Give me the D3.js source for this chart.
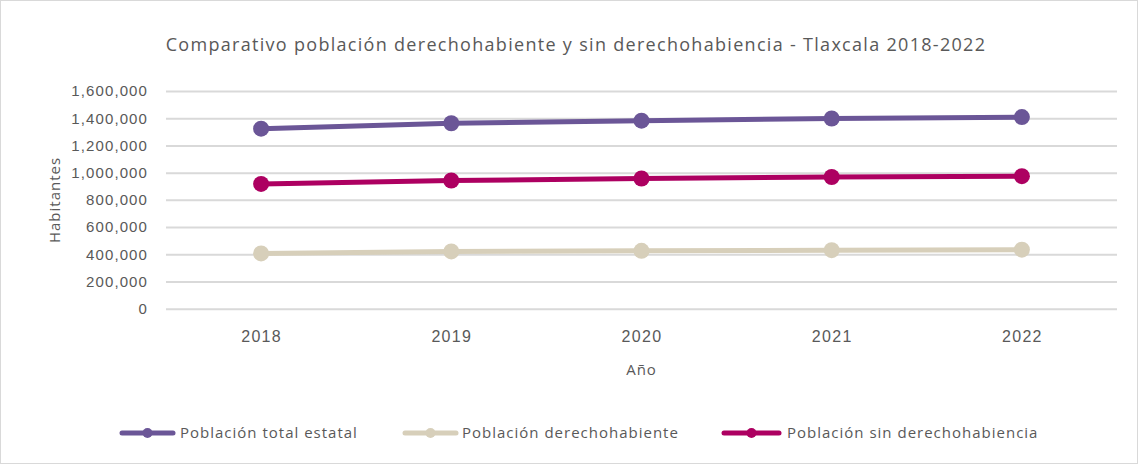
<!DOCTYPE html>
<html>
<head>
<meta charset="utf-8">
<script src="https://cdn.jsdelivr.net/npm/d3@7"></script>
<style>
  html, body { margin: 0; padding: 0; background: #fff; }
  svg { display: block; font-family: "Open Sans", sans-serif; }
  text { fill: #595959; }
</style>
</head>
<body>
<svg id="chart" width="1138" height="464"></svg>
<script>
// Años del periodo
const years = ["2018", "2019", "2020", "2021", "2022"];

// Habitantes por serie
const poblacionTotal = [1323000, 1363000, 1382000, 1398000, 1408000];
const poblacionDerechohabiente = [406000, 421000, 425000, 430000, 434000];
const poblacionSinDerecho = [917000, 942000, 957000, 968000, 974000];

const seriesNames = ["Población total estatal", "Población derechohabiente", "Población sin derechohabiencia"];
const seriesColors = ["#6b5697", "#d7cfba", "#ad0061"];

const yTicks = [0, 200000, 400000, 600000, 800000, 1000000, 1200000, 1400000, 1600000];

const series = [poblacionTotal, poblacionDerechohabiente, poblacionSinDerecho].map((values, i) => ({
  name: seriesNames[i],
  color: seriesColors[i],
  values: values.map((v, j) => ({ year: years[j], value: v }))
}));

const svg = d3.select("#chart");
const W = 1138, H = 464;
const margin = { top: 91, right: 21, bottom: 155, left: 166 };

// Marco exterior
svg.append("rect")
  .attr("x", 0.5).attr("y", 0.5)
  .attr("width", W - 1).attr("height", H - 1)
  .attr("fill", "#fff").attr("stroke", "#d9d9d9");

const x = d3.scalePoint()
  .domain(years)
  .range([margin.left, W - margin.right])
  .padding(0.5);

const y = d3.scaleLinear()
  .domain([0, 1600000])
  .range([H - margin.bottom - 0.3, margin.top]);

// Título
svg.append("text")
  .attr("x", 576).attr("y", 51)
  .attr("text-anchor", "middle")
  .style("font-size", "18px")
  .style("letter-spacing", "1.3px")
  .text("Comparativo población derechohabiente y sin derechohabiencia - Tlaxcala 2018-2022");

// Eje Y con líneas de cuadrícula
const yAxis = svg.append("g")
  .attr("transform", `translate(${margin.left},0)`)
  .call(d3.axisLeft(y)
    .tickValues(yTicks)
    .tickSize(-(W - margin.right - margin.left))
    .tickPadding(18)
    .tickFormat(d3.format(",")));
yAxis.select(".domain").remove();
yAxis.selectAll(".tick line").attr("stroke", "#d9d9d9").attr("stroke-width", 2);
yAxis.selectAll(".tick text")
  .style("font-size", "15px")
  .style("letter-spacing", "1.1px")
  .attr("fill", "#595959");

// Eje X
const xAxis = svg.append("g")
  .attr("transform", `translate(0,${H - margin.bottom})`)
  .call(d3.axisBottom(x).tickSize(0).tickPadding(22));
xAxis.select(".domain").remove();
xAxis.selectAll(".tick text")
  .style("font-size", "16px")
  .style("letter-spacing", "1.3px")
  .attr("fill", "#595959");

// Títulos de ejes
svg.append("text")
  .attr("x", (margin.left + W - margin.right) / 2).attr("y", 375)
  .attr("text-anchor", "middle")
  .style("font-size", "15px")
  .style("letter-spacing", "1px")
  .text("Año");

svg.append("text")
  .attr("transform", `translate(60,${(margin.top + H - margin.bottom) / 2}) rotate(-90)`)
  .attr("text-anchor", "middle")
  .style("font-size", "15px")
  .style("letter-spacing", "1px")
  .text("Habitantes");

// Líneas y marcadores
const line = d3.line()
  .x(d => x(d.year))
  .y(d => y(d.value));

const g = svg.append("g");
// Orden de dibujo: derechohabiente, sin derechohabiencia, total
[1, 2, 0].forEach(i => {
  const s = series[i];
  g.append("path")
    .datum(s.values)
    .attr("d", line)
    .attr("fill", "none")
    .attr("stroke", s.color)
    .attr("stroke-width", 5)
    .attr("stroke-linecap", "round");
  g.selectAll(null)
    .data(s.values)
    .join("circle")
    .attr("cx", d => x(d.year))
    .attr("cy", d => y(d.value))
    .attr("r", 8)
    .attr("fill", s.color);
});

// Leyenda
const legendItems = [
  { x0: 122, x1: 173, tx: 180 },
  { x0: 405, x1: 456, tx: 462 },
  { x0: 724, x1: 779, tx: 787 }
];
const legend = svg.append("g").attr("transform", "translate(0,433)");
series.forEach((s, i) => {
  const it = legendItems[i];
  legend.append("line")
    .attr("x1", it.x0).attr("x2", it.x1)
    .attr("y1", 0).attr("y2", 0)
    .attr("stroke", s.color).attr("stroke-width", 5)
    .attr("stroke-linecap", "round");
  legend.append("circle")
    .attr("cx", (it.x0 + it.x1) / 2).attr("cy", 0)
    .attr("r", 5).attr("fill", s.color);
  legend.append("text")
    .attr("x", it.tx).attr("y", 0)
    .attr("dy", "0.35em")
    .style("font-size", "15px")
    .style("letter-spacing", "1px")
    .text(s.name);
});
</script>
</body>
</html>
